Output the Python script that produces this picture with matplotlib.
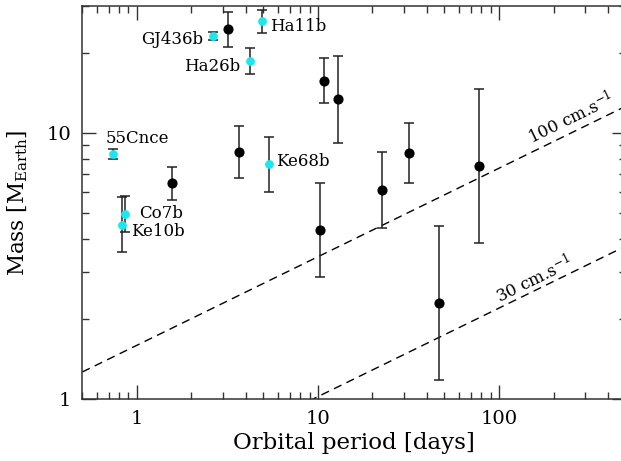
import numpy as np
import matplotlib
matplotlib.use("Agg")
import matplotlib.pyplot as plt
from matplotlib.ticker import LogLocator, NullFormatter, FixedLocator, FixedFormatter

# --------------------------
# Data
# --------------------------

# planets with names (cyan)
named = ["55Cnce", "GJ436b", "Ha11b", "Ha26b", "Ke68b", "Co7b", "Ke10b"]
named_period = [0.737, 2.63, 4.90, 4.24, 5.40, 0.859, 0.833]
named_mass = [8.34, 23.2, 26.3, 18.7, 7.62, 4.96, 4.51]
named_mass_lo = [8.0, 22.4, 23.7, 16.6, 5.98, 4.25, 3.57]
named_mass_hi = [8.7, 23.9, 29.0, 20.9, 9.69, 5.81, 5.72]

# other planets (black)
other_period = [3.2, 1.57, 3.68, 10.8, 13.0, 22.5, 31.8, 77.6, 10.3, 46.6]
other_mass = [24.6, 6.47, 8.46, 15.7, 13.4, 6.1, 8.39, 7.53, 4.31, 2.30]
other_mass_lo = [21.1, 5.6, 6.76, 13.0, 9.15, 4.38, 6.47, 3.87, 2.86, 1.18]
other_mass_hi = [28.6, 7.47, 10.6, 19.1, 19.5, 8.48, 10.9, 14.7, 6.47, 4.48]

# RV detection limits (end points of straight lines in log-log)
limit_period = [0.5, 500]
limit_100_mass = [1.26, 12.6]
limit_30_mass = [0.375, 3.75]

# label offsets in pixels (dx, dy, ha)
label_offsets = {
    "55Cnce": (-7, 15, "left"),
    "GJ436b": (-10, -4, "right"),
    "Ha11b": (8, -5, "left"),
    "Ha26b": (-10, -6, "right"),
    "Ke68b": (7, 3, "left"),
    "Co7b": (14, 0, "left"),
    "Ke10b": (9, -7, "left"),
}

# --------------------------
# Plot
# --------------------------
plt.rcParams["font.family"] = ["DejaVu Serif"]
plt.rcParams["mathtext.fontset"] = "dejavuserif"

W, H = 621, 461
fig = plt.figure(figsize=(W / 100, H / 100), dpi=100)
# axes run a bit past the right edge of the image (as in the original)
x0, x1, y0, y1 = 82.2, 625.6, 6.2, 398.7
ax = fig.add_axes([x0 / W, 1 - y1 / H, (x1 - x0) / W, (y1 - y0) / H])

ax.set_xscale("log")
ax.set_yscale("log")
ax.set_xlim(0.5, 500)
ax.set_ylim(1, 30)

axis_col = "#333333"

# detection limits
ax.plot(limit_period, limit_100_mass, color="black", lw=1, dashes=(6, 4))
ax.plot(limit_period, limit_30_mass, color="black", lw=1, dashes=(6, 4))

ax.text(250, 11.4, "100 cm.s$^{-1}$", rotation=26, ha="center", va="center",
        fontsize=12, rotation_mode="anchor")
ax.text(156, 2.82, "30 cm.s$^{-1}$", rotation=26, ha="center", va="center",
        fontsize=12, rotation_mode="anchor")

# error bars
om = np.array(other_mass)
ax.errorbar(other_period, om,
            yerr=[om - np.array(other_mass_lo), np.array(other_mass_hi) - om],
            fmt="o", color="black", ecolor="#222222", ms=6.3, elinewidth=1.1,
            capsize=3.5, capthick=1.1, zorder=3)

nm = np.array(named_mass)
ax.errorbar(named_period, nm,
            yerr=[nm - np.array(named_mass_lo), np.array(named_mass_hi) - nm],
            fmt="none", ecolor="#222222", elinewidth=1.1,
            capsize=3.5, capthick=1.1, zorder=3)
ax.plot(named_period, nm, "o", color="#1AE8EE", ms=6.3, mec="none", zorder=4)

for name, p, m in zip(named, named_period, named_mass):
    dx, dy, ha = label_offsets[name]
    ax.annotate(name, (p, m), xytext=(dx * 0.72, dy * 0.72),
                textcoords="offset points", ha=ha, va="center", fontsize=12)

# axes / ticks
ax.xaxis.set_major_locator(FixedLocator([1, 10, 100]))
ax.xaxis.set_major_formatter(FixedFormatter(["1", "10", "100"]))
ax.xaxis.set_minor_locator(LogLocator(base=10, subs=np.arange(2, 10)))
ax.xaxis.set_minor_formatter(NullFormatter())
ax.yaxis.set_major_locator(FixedLocator([1, 10]))
ax.yaxis.set_major_formatter(FixedFormatter(["1", "10"]))
ax.yaxis.set_minor_locator(LogLocator(base=10, subs=np.arange(2, 10)))
ax.yaxis.set_minor_formatter(NullFormatter())

ax.tick_params(which="both", direction="in", top=True, right=True,
               color=axis_col, width=1, labelsize=14)
ax.tick_params(which="major", length=10, pad=8)
ax.tick_params(which="minor", length=5)
for s in ax.spines.values():
    s.set_color(axis_col)
    s.set_linewidth(1.1)
ax.spines["right"].set_visible(False)

ax.set_xlabel("Orbital period [days]", fontsize=16.5, labelpad=3)
ax.set_ylabel("Mass [M$_{\\mathrm{Earth}}$]", fontsize=15.5, labelpad=12)

fig.savefig("out.png", dpi=100)
